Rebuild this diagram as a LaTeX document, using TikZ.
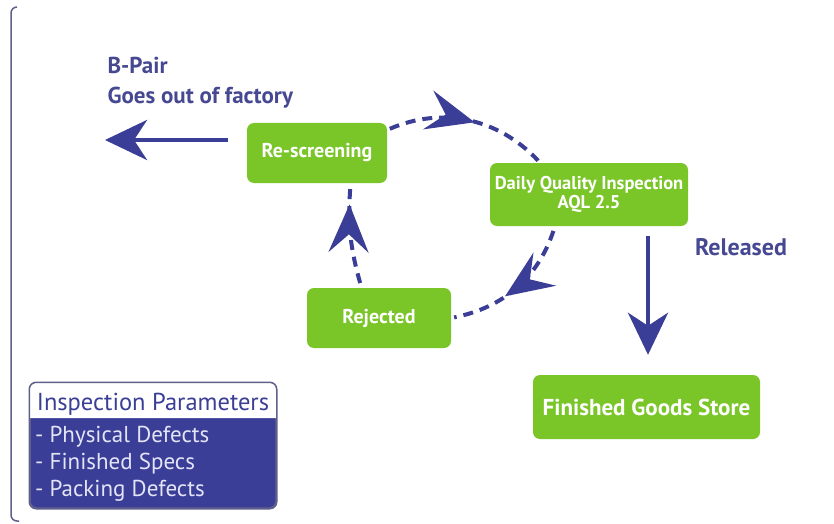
\documentclass[tikz,border=0pt]{standalone}
\usepackage{fontspec}
\setmainfont{PT Sans}
\usetikzlibrary{arrows.meta,decorations.markings}

\definecolor{stepgreen}{RGB}{122,198,40}
\definecolor{flowblue}{RGB}{58,62,150}
\definecolor{labelblue}{RGB}{70,72,145}
\definecolor{framegray}{RGB}{95,95,140}
\definecolor{listtext}{RGB}{228,228,248}

\tikzset{
  stagebox/.style={fill=stepgreen, rounded corners=7pt, text=white, align=center, inner sep=0pt},
  bighead/.tip={Stealth[length=48pt,width=40pt,inset=18pt]},
  cycleflow/.style={flowblue, line width=4pt, dash pattern=on 10pt off 7pt,
    shorten <=5pt, shorten >=3pt,
    decoration={markings, mark=at position #1 with {\arrow[flowblue]{bighead}}},
    postaction={decorate}},
  solidflow/.style={flowblue, line width=4.5pt, -{Stealth[length=42pt,width=40pt,inset=13pt]}},
  parambox/.style={fill=flowblue, draw=framegray, line width=1.5pt, rounded corners=7pt,
    minimum width=246pt, minimum height=125pt, inner sep=0pt}
}

\begin{document}
\begin{tikzpicture}[x=1pt,y=1pt]
  \useasboundingbox (0,0) rectangle (834,523);
  \draw[framegray, line width=1.5pt, rounded corners=6pt] (17,516) -- (11,516) -- (11,2) -- (19,2);

  \node[stagebox, minimum width=140pt, minimum height=60pt, font=\bfseries\fontsize{20}{22}\selectfont] (resc) at (317,370) {Re-screening};
  \node[stagebox, minimum width=198pt, minimum height=63pt, font=\bfseries\fontsize{18.5}{19}\selectfont] (daily) at (589,328.5) {Daily Quality Inspection\\AQL 2.5};
  \node[stagebox, minimum width=144pt, minimum height=60pt, font=\bfseries\fontsize{20}{22}\selectfont] (rej) at (379,205) {Rejected};
  \node[stagebox, minimum width=227pt, minimum height=64pt, font=\bfseries\fontsize{23}{26}\selectfont] (fgs) at (646.5,116) {Finished Goods Store};

  \node[anchor=north west, align=left, text=labelblue, font=\bfseries\fontsize{23}{30}\selectfont] (bpairtext) at (104,469) {B-Pair\\Goes out of factory};
  \node[text=labelblue, font=\bfseries\fontsize{24}{26}\selectfont] (released) at (741,276) {Released};

  \coordinate (bpair) at (105,383);
  \draw[solidflow] ([xshift=-19pt,yshift=13pt]resc.west) -- (bpair);
  \draw[solidflow] ([xshift=59pt,yshift=-10pt]daily.south) -- ([xshift=1.5pt,yshift=20pt]fgs.north);

  \draw[cycleflow=0.54] ([xshift=-2pt,yshift=-8pt]resc.north east) to[bend left=35] (daily.147);
  \draw[cycleflow=0.6] (daily.223) to[bend left=30] (rej.east);
  \draw[cycleflow=0.8] (rej.120) to[bend left=10] (resc.318);

  \node[parambox] (param) at (153,77.5) {};
  \fill[white] (param.east |- 0,105) [rounded corners=6pt] -- ([shift={(-0.75pt,-0.75pt)}]param.north east)
    -- ([shift={(0.75pt,-0.75pt)}]param.north west) [sharp corners] -- (param.west |- 0,105) -- cycle;
  \draw[framegray, line width=1.5pt, rounded corners=7pt] (param.south west) rectangle (param.north east);
  \node[text=flowblue, font=\fontsize{24.5}{26}\selectfont] (paramhead) at (153,119) {Inspection Parameters};
  \node[anchor=north west, align=left, inner sep=0pt, text=listtext, font=\fontsize{23}{27}\selectfont] (paramlist) at (35,97) {- Physical Defects\\- Finished Specs\\- Packing Defects};
\end{tikzpicture}
\end{document}
